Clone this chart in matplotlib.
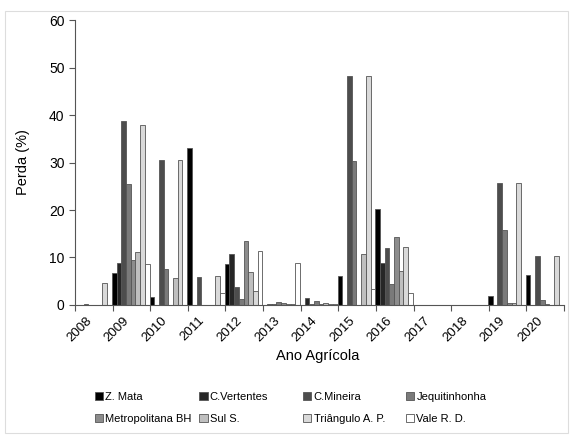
import numpy as np
import matplotlib
matplotlib.use("Agg")
from matplotlib import pyplot as plt
from matplotlib.patches import Rectangle, Patch

plt.rcParams['font.family'] = ['Liberation Sans', 'DejaVu Sans']

years = ["2008", "2009", "2010", "2011", "2012", "2013", "2014",
         "2015", "2016", "2017", "2018", "2019", "2020"]

regions = ["Z. Mata", "C.Vertentes", "C.Mineira", "Jequitinhonha",
           "Metropolitana BH", "Sul S.", "Triângulo A. P.", "Vale R. D."]

# perda (%) por regiao, um valor por ano
zMata        = [0.0, 6.7, 1.6, 33.0, 8.6, 0.1, 0.0, 6.1, 20.3, 0.0, 0.0, 1.9, 6.4]
cVertentes   = [0.0, 8.8, 0.0, 0.0, 10.8, 0.2, 1.5, 0.0, 8.8, 0.0, 0.0, 0.1, 0.1]
cMineira     = [0.2, 38.7, 30.5, 5.9, 3.8, 0.3, 0.3, 48.2, 12.1, 0.0, 0.0, 25.7, 10.4]
jequitinhonha= [0.0, 25.5, 7.5, 0.0, 1.3, 0.6, 0.8, 30.3, 4.4, 0.0, 0.0, 15.8, 1.1]
metropolitana= [0.0, 9.5, 0.0, 0.0, 13.4, 0.5, 0.2, 0.0, 14.3, 0.0, 0.0, 0.5, 0.2]
sulS         = [0.0, 11.2, 5.7, 0.0, 7.0, 0.2, 0.4, 10.8, 7.1, 0.0, 0.0, 0.5, 0.0]
trianguloAP  = [4.6, 38.0, 30.5, 6.1, 2.9, 0.2, 0.2, 48.2, 12.3, 0.0, 0.0, 25.7, 10.4]
valeRD       = [0.0, 8.6, 0.0, 2.5, 11.3, 8.8, 0.2, 3.3, 2.5, 0.1, 0.0, 0.0, 0.1]

seriesList = [zMata, cVertentes, cMineira, jequitinhonha,
              metropolitana, sulS, trianguloAP, valeRD]
colors = ["#000000", "#262626", "#4d4d4d", "#7a7a7a",
          "#8c8c8c", "#bfbfbf", "#d9d9d9", "#ffffff"]

fig = plt.figure(figsize=(5.74, 4.36), dpi=100)
ax = fig.add_axes([0.1307, 0.3005, 0.852, 0.6535])

nSer = len(seriesList)
w = 1.0 / nSer
xBase = np.arange(len(years))
for i, vals in enumerate(seriesList):
    ax.bar(xBase + i * w - 0.02, vals, width=w, align='edge',
           color=colors[i], edgecolor='#555555', linewidth=0.6)

ax.set_xlim(0, len(years))
ax.set_ylim(0, 60)
ax.set_yticks(range(0, 61, 10))
ax.set_xticks(range(0, len(years) + 1))
ax.set_xticklabels([])
ax.set_xticks(xBase + 0.5, minor=True)
ax.set_xticklabels(years, minor=True, rotation=45, ha='right', fontsize=9.5)
ax.tick_params(axis='x', which='minor', length=0, pad=7)
ax.tick_params(axis='x', which='major', length=4, direction='out', color='#555555')
ax.tick_params(axis='y', length=4, direction='out', color='#555555', labelsize=10)

for s in ['top', 'right']:
    ax.spines[s].set_visible(False)
for s in ['left', 'bottom']:
    ax.spines[s].set_color('#555555')
    ax.spines[s].set_linewidth(0.8)

ax.set_ylabel("Perda (%)", fontsize=10.5, labelpad=14)
fig.text(0.554, 0.184, "Ano Agrícola", ha='center', va='center', fontsize=10.5)

# legenda em 4 colunas fixas
colX = [0.165, 0.347, 0.528, 0.707]
for c in range(4):
    handles = []
    for r in range(2):
        k = r * 4 + c
        handles.append(Patch(facecolor=colors[k], edgecolor='#555555',
                             linewidth=0.6, label=regions[k]))
    fig.legend(handles=handles, loc='upper left', bbox_to_anchor=(colX[c], 0.101),
               bbox_transform=fig.transFigure, frameon=False, fontsize=8,
               handlelength=0.75, handleheight=0.75, handletextpad=0.2,
               labelspacing=1.1, borderaxespad=0, borderpad=0)

fig.patches.append(Rectangle((5 / 574, 3 / 436), 563 / 574, 422 / 436,
                             transform=fig.transFigure, fill=False,
                             edgecolor='#dddddd', linewidth=0.8))

fig.savefig("out.png", dpi=100)
